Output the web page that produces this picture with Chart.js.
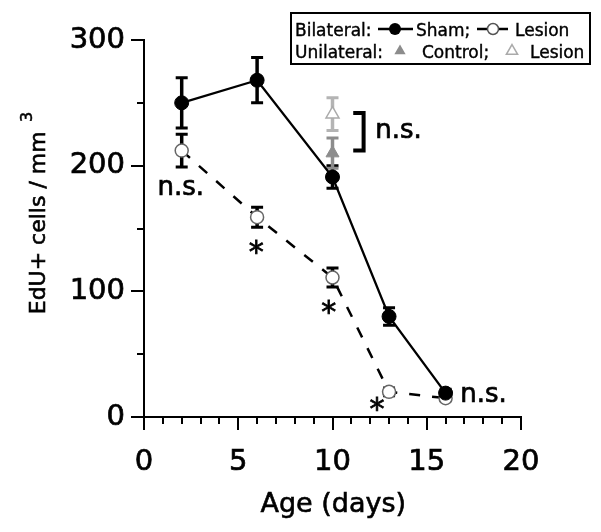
<!DOCTYPE html>
<html><head><meta charset="utf-8">
<script src="https://cdn.jsdelivr.net/npm/chart.js@4/dist/chart.umd.min.js"></script>
<style>html,body{margin:0;padding:0;background:#fff}#wrap{width:601px;height:532px;position:relative}</style>
</head><body><div id="wrap"><canvas id="c" width="601" height="532"></canvas></div>
<script>
// ---- data ----
const ages = [2, 6, 10, 13, 16];
const shamMean = [250, 268, 191, 80, 19];
const shamErr = [20, 18, 9, 7, 3];
const lesionMean = [212, 159, 111, 20, 15];
const lesionErr = [13, 8, 7.5, 3, 2];
const uniAges = [10];
const uniControlMean = [210];
const uniControlErr = [12];
const uniLesionMean = [241];
const uniLesionErr = [13];
const xTickLabels = [0, 5, 10, 15, 20];
const yTickLabels = [0, 100, 200, 300];
const noteTexts = ['n.s.', '*', '*', '*', 'n.s.', 'n.s.'];
const noteX = [1.94, 5.95, 9.8, 12.36, 18.0, 13.5];
const noteY = [182.6, 135, 87.5, 10.3, 18.3, 228];
const bracketX = [11.1, 11.65];
const bracketY = [242, 212];
const xTitle = 'Age (days)';
const yTitle = 'EdU+ cells / mm';
const yTitleSup = '3';
const legendRow1 = ['Bilateral:', 'Sham;', 'Lesion'];
const legendRow2 = ['Unilateral:', 'Control;', 'Lesion'];

const FONT = 'DejaVu Sans';
const pts = (xs, ys) => xs.map((x, i) => ({x: x, y: ys[i]}));

function inkText(ctx, text, cx, cy, sw) {
  const m = ctx.measureText(text);
  const w = m.actualBoundingBoxLeft + m.actualBoundingBoxRight;
  ctx.textAlign = 'left'; ctx.textBaseline = 'alphabetic';
  const tx = cx - w / 2 + m.actualBoundingBoxLeft;
  const ty = cy + (m.actualBoundingBoxAscent - m.actualBoundingBoxDescent) / 2;
  ctx.fillText(text, tx, ty);
  if (sw) { ctx.lineWidth = sw; ctx.strokeStyle = ctx.fillStyle; ctx.strokeText(text, tx, ty); }
}
function boldText(ctx, text, x, y, sw) {
  ctx.fillText(text, x, y);
  ctx.lineWidth = sw; ctx.strokeStyle = ctx.fillStyle; ctx.strokeText(text, x, y);
}

const errorSets = [
  {xs: ages, m: shamMean, e: shamErr, color: '#000'},
  {xs: ages, m: lesionMean, e: lesionErr, color: '#000'},
  {xs: uniAges, m: uniControlMean, e: uniControlErr, color: '#8c8c8c'},
  {xs: uniAges, m: uniLesionMean, e: uniLesionErr, color: '#b4b4b4'}
];

const errorBars = {
  id: 'errorBars',
  beforeDatasetsDraw(chart) {
    const {ctx, scales: {x, y}} = chart;
    ctx.save();
    ctx.lineCap = 'butt';
    errorSets.forEach(s => {
      ctx.strokeStyle = s.color;
      s.xs.forEach((xv, i) => {
        const px = x.getPixelForValue(xv);
        const top = y.getPixelForValue(s.m[i] + s.e[i]);
        const bot = y.getPixelForValue(s.m[i] - s.e[i]);
        ctx.lineWidth = 3.5;
        ctx.beginPath();
        ctx.moveTo(px, top); ctx.lineTo(px, bot);
        ctx.stroke();
        ctx.lineWidth = 3;
        ctx.beginPath();
        ctx.moveTo(px - 6, top); ctx.lineTo(px + 6, top);
        ctx.moveTo(px - 6, bot); ctx.lineTo(px + 6, bot);
        ctx.stroke();
      });
    });
    ctx.restore();
  }
};

const decor = {
  id: 'decor',
  afterDraw(chart) {
    const {ctx, scales: {x, y}, chartArea: a} = chart;
    ctx.save();
    // ticks
    ctx.strokeStyle = '#000'; ctx.lineWidth = 2;
    for (let v = 0; v <= 20; v++) {
      const px = Math.round(x.getPixelForValue(v));
      const len = v % 5 === 0 ? 13 : 7;
      ctx.beginPath(); ctx.moveTo(px, a.bottom); ctx.lineTo(px, a.bottom + len); ctx.stroke();
    }
    for (let v = 0; v <= 300; v += 50) {
      const py = Math.round(y.getPixelForValue(v));
      const len = v % 100 === 0 ? 13 : 7;
      ctx.beginPath(); ctx.moveTo(a.left, py); ctx.lineTo(a.left - len, py); ctx.stroke();
    }
    // axis titles
    ctx.fillStyle = '#000';
    ctx.font = '27px "' + FONT + '"';
    inkText(ctx, xTitle, (a.left + a.right) / 2, 505, 0.6);
    ctx.save();
    ctx.translate(37.5, 222.5); ctx.rotate(-Math.PI / 2);
    ctx.font = '22px "' + FONT + '"';
    inkText(ctx, yTitle, 0, 0, 0.6);
    ctx.restore();
    ctx.save();
    ctx.translate(26, 117); ctx.rotate(-Math.PI / 2);
    ctx.font = '16px "' + FONT + '"';
    inkText(ctx, yTitleSup, 0, 0, 0.5);
    ctx.restore();
    // annotations
    noteTexts.forEach((t, i) => {
      ctx.font = (t === '*' ? '30px "' : '26px "') + FONT + '"';
      inkText(ctx, t, x.getPixelForValue(noteX[i]), y.getPixelForValue(noteY[i]), t === '*' ? 0.8 : 0.7);
    });
    // bracket
    ctx.lineWidth = 4; ctx.strokeStyle = '#000'; ctx.lineJoin = 'miter';
    const bx0 = x.getPixelForValue(bracketX[0]), bx1 = x.getPixelForValue(bracketX[1]);
    const by0 = y.getPixelForValue(bracketY[0]), by1 = y.getPixelForValue(bracketY[1]);
    ctx.beginPath(); ctx.moveTo(bx0, by0); ctx.lineTo(bx1, by0); ctx.lineTo(bx1, by1); ctx.lineTo(bx0, by1); ctx.stroke();
    // legend
    ctx.lineWidth = 2; ctx.strokeStyle = '#000';
    ctx.strokeRect(291, 13, 299, 51);
    ctx.font = '17px "' + FONT + '"';
    ctx.textAlign = 'left'; ctx.textBaseline = 'alphabetic';
    ctx.fillStyle = '#000';
    const b1 = 36, b2 = 58, c1 = 29, c2 = 51;
    boldText(ctx, legendRow1[0], 295, b1, 0.4);
    boldText(ctx, legendRow1[1], 416, b1, 0.4);
    boldText(ctx, legendRow1[2], 515, b1, 0.4);
    boldText(ctx, legendRow2[0], 295, b2, 0.4);
    boldText(ctx, legendRow2[1], 422, b2, 0.4);
    boldText(ctx, legendRow2[2], 530, b2, 0.4);
    // legend symbols
    ctx.lineWidth = 2.5; ctx.strokeStyle = '#000';
    ctx.beginPath(); ctx.moveTo(378, c1); ctx.lineTo(413, c1); ctx.stroke();
    ctx.fillStyle = '#000';
    ctx.beginPath(); ctx.arc(395, c1, 6, 0, Math.PI * 2); ctx.fill();
    ctx.beginPath(); ctx.moveTo(477, c1); ctx.lineTo(508, c1); ctx.stroke();
    ctx.fillStyle = '#fff'; ctx.strokeStyle = '#555'; ctx.lineWidth = 1.5;
    ctx.beginPath(); ctx.arc(493, c1, 5.5, 0, Math.PI * 2); ctx.fill(); ctx.stroke();
    const tri = (cx, cy, r) => {
      ctx.beginPath();
      ctx.moveTo(cx, cy - r);
      ctx.lineTo(cx + r * Math.sin(Math.PI * 2 / 3), cy - r * Math.cos(Math.PI * 2 / 3));
      ctx.lineTo(cx + r * Math.sin(Math.PI * 4 / 3), cy - r * Math.cos(Math.PI * 4 / 3));
      ctx.closePath();
    };
    ctx.fillStyle = '#8c8c8c';
    tri(400, c2, 6.5); ctx.fill();
    ctx.fillStyle = '#fff'; ctx.strokeStyle = '#aaa'; ctx.lineWidth = 1.5;
    tri(512, c2, 6.5); ctx.fill(); ctx.stroke();
    ctx.restore();
  }
};

new Chart(document.getElementById('c'), {
  type: 'scatter',
  data: {
    datasets: [
      {label: 'Sham', data: pts(ages, shamMean), showLine: true, borderColor: '#000', borderWidth: 2.3,
       pointRadius: 7, pointBackgroundColor: '#000', pointBorderColor: '#000', pointBorderWidth: 1},
      {label: 'Lesion', data: pts(ages, lesionMean), showLine: true, borderColor: '#000', borderWidth: 2.5,
       borderDash: [11, 12], pointRadius: 6.5, pointBackgroundColor: '#fff', pointBorderColor: '#666',
       pointBorderWidth: 1.5},
      {label: 'Unilateral Control', data: pts(uniAges, uniControlMean), pointStyle: 'triangle', pointRadius: 7.5,
       pointBackgroundColor: '#8c8c8c', pointBorderColor: '#8c8c8c', pointBorderWidth: 1},
      {label: 'Unilateral Lesion', data: pts(uniAges, uniLesionMean), pointStyle: 'triangle', pointRadius: 7.5,
       pointBackgroundColor: '#fff', pointBorderColor: '#aaa', pointBorderWidth: 1.5}
    ]
  },
  options: {
    responsive: false, animation: false, devicePixelRatio: 1,
    layout: {padding: {left: 0, right: 80, top: 40, bottom: 0}},
    plugins: {legend: {display: false}, tooltip: {enabled: false}},
    scales: {
      x: {
        type: 'linear', min: 0, max: 20,
        afterFit(s) { s.height = 115; },
        afterBuildTicks(s) { s.ticks = xTickLabels.map(v => ({value: v})); },
        ticks: {color: '#000', padding: 28, font: {family: FONT, size: 29},
                textStrokeColor: '#000', textStrokeWidth: 0.7},
        grid: {display: false, drawTicks: false},
        border: {display: true, color: '#000', width: 2}
      },
      y: {
        type: 'linear', min: 0, max: 300,
        afterFit(s) { s.width = 144; },
        afterBuildTicks(s) { s.ticks = yTickLabels.map(v => ({value: v})); },
        ticks: {color: '#000', padding: 19, font: {family: FONT, size: 29},
                textStrokeColor: '#000', textStrokeWidth: 0.7},
        grid: {display: false, drawTicks: false},
        border: {display: true, color: '#000', width: 2}
      }
    }
  },
  plugins: [errorBars, decor]
});
</script>
</body></html>
